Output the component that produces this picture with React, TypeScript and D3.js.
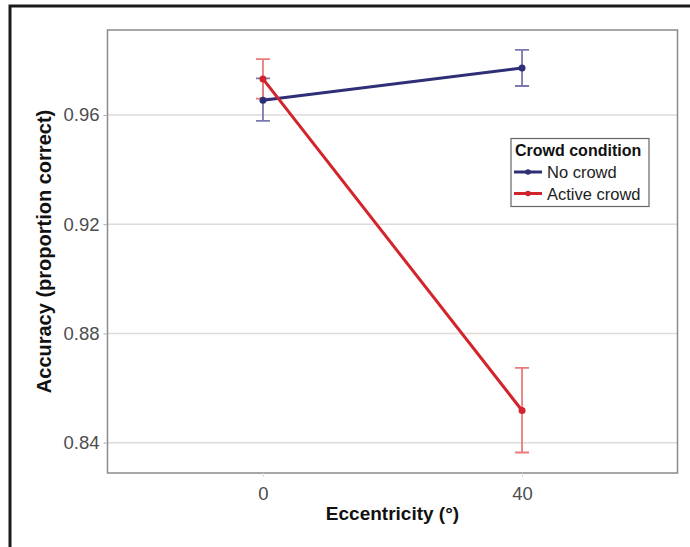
import React, { useEffect, useRef } from 'react';
import * as d3 from 'd3';

// eccentricity conditions
const categories = ['0', '40'];
const yTicks = [0.84, 0.88, 0.92, 0.96];

// accuracy means and error bar limits
const noCrowdMean = [0.9654, 0.9772];
const noCrowdLow = [0.9578, 0.9706];
const noCrowdHigh = [0.9734, 0.9838];

const activeMean = [0.9732, 0.8518];
const activeLow = [0.966, 0.8364];
const activeHigh = [0.9804, 0.8674];

const seriesNames = ['No crowd', 'Active crowd'];

const App = () => {
    const svgRef = useRef<SVGSVGElement>(null);

    useEffect(() => {
        const svg = d3.select(svgRef.current);
        svg.selectAll('*').remove();

        const panel = { left: 107.5, right: 677.5, top: 30, bottom: 473 };
        const font = '"Liberation Sans", Arial, sans-serif';

        const x = d3
            .scalePoint()
            .domain(categories)
            .range([panel.left, panel.right])
            .padding(0.6);

        const y = d3
            .scaleLinear()
            .domain([0.8289, 0.9911])
            .range([panel.bottom, panel.top]);

        // outer frame (top and left edges only)
        svg.append('path')
            .attr('d', 'M10,547 L10,6 L690,6')
            .attr('fill', 'none')
            .attr('stroke', '#1a1a1a')
            .attr('stroke-width', 3);

        // gridlines
        svg.append('g')
            .selectAll('line')
            .data(yTicks)
            .enter()
            .append('line')
            .attr('x1', panel.left)
            .attr('x2', panel.right)
            .attr('y1', d => y(d))
            .attr('y2', d => y(d))
            .attr('stroke', '#dedbd8')
            .attr('stroke-width', 1.5);

        // panel border
        svg.append('rect')
            .attr('x', panel.left)
            .attr('y', panel.top)
            .attr('width', panel.right - panel.left)
            .attr('height', panel.bottom - panel.top)
            .attr('fill', 'none')
            .attr('stroke', '#8a8a8a')
            .attr('stroke-width', 1.5);

        // y axis
        const yAxis = svg.append('g')
            .attr('transform', `translate(${panel.left},0)`)
            .call(d3.axisLeft(y).tickValues(yTicks).tickFormat(d3.format('.2f')).tickSize(4).tickPadding(4));
        yAxis.select('.domain').remove();
        yAxis.selectAll('.tick line').attr('stroke', '#aaa');
        yAxis.selectAll('.tick text')
            .attr('fill', '#4d4d4d')
            .style('font-family', font)
            .style('font-size', '18.5px');

        // x axis
        const xAxis = svg.append('g')
            .attr('transform', `translate(0,${panel.bottom})`)
            .call(d3.axisBottom(x).tickSize(4).tickPadding(10));
        xAxis.select('.domain').remove();
        xAxis.selectAll('.tick line').attr('stroke', '#ddd');
        xAxis.selectAll('.tick text')
            .attr('fill', '#4d4d4d')
            .style('font-family', font)
            .style('font-size', '18.5px');

        // axis titles
        svg.append('text')
            .attr('x', (panel.left + panel.right) / 2)
            .attr('y', 520)
            .attr('text-anchor', 'middle')
            .style('font-family', font)
            .style('font-size', '19px')
            .style('font-weight', 'bold')
            .attr('fill', '#111')
            .text('Eccentricity (°)');

        svg.append('text')
            .attr('transform', `translate(51,${(panel.top + panel.bottom) / 2}) rotate(-90)`)
            .attr('text-anchor', 'middle')
            .style('font-family', font)
            .style('font-size', '20px')
            .style('font-weight', 'bold')
            .attr('fill', '#111')
            .text('Accuracy (proportion correct)');

        const series = [
            { name: seriesNames[0], mean: noCrowdMean, low: noCrowdLow, high: noCrowdHigh, color: '#2f2f78', err: '#7a79ad' },
            { name: seriesNames[1], mean: activeMean, low: activeLow, high: activeHigh, color: '#d3232b', err: '#ea7b7b' },
        ];

        const cap = 7;
        series.forEach(s => {
            const g = svg.append('g');
            categories.forEach((c, i) => {
                const cx = x(c) as number;
                g.append('path')
                    .attr('d', `M${cx - cap},${y(s.high[i])} H${cx + cap} M${cx},${y(s.high[i])} V${y(s.low[i])} M${cx - cap},${y(s.low[i])} H${cx + cap}`)
                    .attr('fill', 'none')
                    .attr('stroke', s.err)
                    .attr('stroke-width', 1.8);
            });
        });

        series.forEach(s => {
            const line = d3.line<number>()
                .x((d, i) => x(categories[i]) as number)
                .y(d => y(d));
            svg.append('path')
                .attr('d', line(s.mean))
                .attr('fill', 'none')
                .attr('stroke', s.color)
                .attr('stroke-width', 3);
            svg.append('g')
                .selectAll('circle')
                .data(s.mean)
                .enter()
                .append('circle')
                .attr('cx', (d, i) => x(categories[i]) as number)
                .attr('cy', d => y(d))
                .attr('r', 3.5)
                .attr('fill', s.color);
        });

        // legend
        const lg = svg.append('g').attr('transform', 'translate(511,138.5)');
        lg.append('rect')
            .attr('width', 138)
            .attr('height', 68)
            .attr('fill', 'white')
            .attr('stroke', '#666')
            .attr('stroke-width', 1.2);
        lg.append('text')
            .attr('x', 4)
            .attr('y', 17.5)
            .style('font-family', font)
            .style('font-size', '16px')
            .style('font-weight', 'bold')
            .attr('fill', '#111')
            .text('Crowd condition');
        series.forEach((s, i) => {
            const cy = 33.5 + i * 21.5;
            lg.append('line')
                .attr('x1', 3)
                .attr('x2', 31)
                .attr('y1', cy)
                .attr('y2', cy)
                .attr('stroke', s.color)
                .attr('stroke-width', 3);
            lg.append('circle')
                .attr('cx', 17)
                .attr('cy', cy)
                .attr('r', 2.8)
                .attr('fill', s.color);
            lg.append('text')
                .attr('x', 36)
                .attr('y', cy + 6)
                .style('font-family', font)
                .style('font-size', '16.5px')
                .attr('fill', '#222')
                .text(s.name);
        });
    }, []);

    return (
        <svg
            ref={svgRef}
            width={690}
            height={547}
            style={{ position: 'absolute', left: 0, top: 0, background: 'white' }}
        />
    );
};

export default App;
